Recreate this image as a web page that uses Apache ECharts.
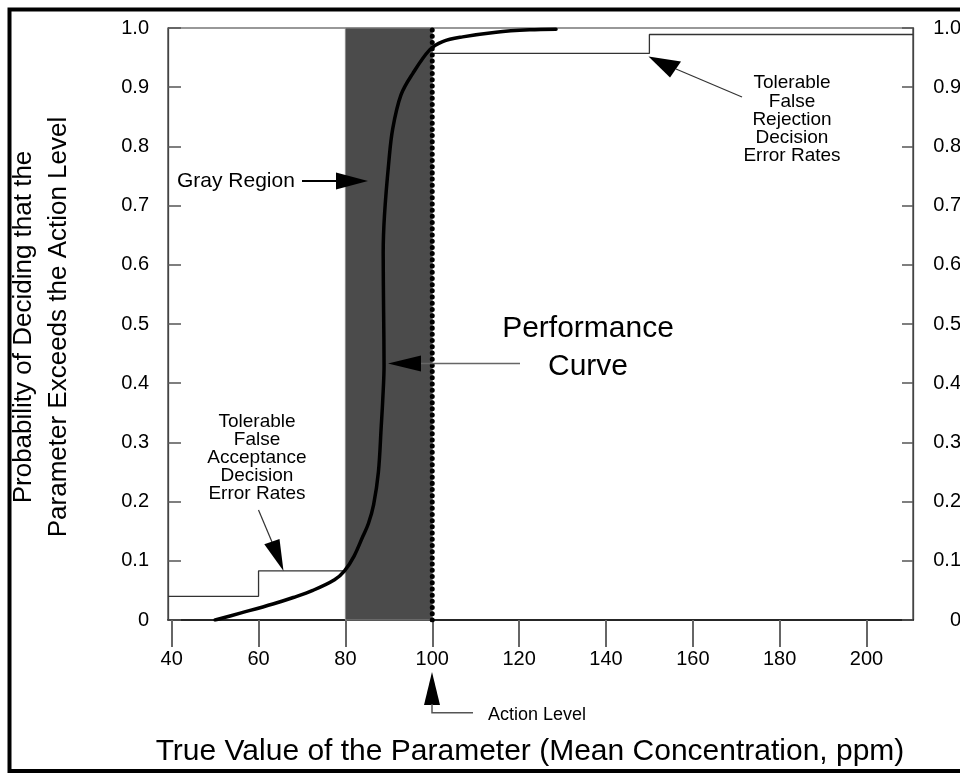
<!DOCTYPE html>
<html>
<head>
<meta charset="utf-8">
<script src="https://cdn.jsdelivr.net/npm/echarts@6/dist/echarts.min.js"></script>
<style>
html,body{margin:0;padding:0;background:#fff;}
#c{width:960px;height:775px;}
</style>
</head>
<body>
<div id="c"></div>
<script>
// ---- data ----
const xTicks = [40, 60, 80, 100, 120, 140, 160, 180, 200];
const xRange = [39.15, 210.7];
const yRange = [0, 1];
const yStep = 0.1;

const grayRegion = [80, 100];
const actionLevel = 100;

const curveX = [50, 56, 63.3, 68, 72.5, 77.5, 79.8, 82, 84, 85.3, 86.5, 87.6, 88.25, 88.6, 88.9, 88.8, 88.7, 89, 90, 90.9, 92.8, 95.5, 99.4, 102.4, 107, 114.7, 122.4, 128.5];
const curveY = [0, 0.012, 0.027, 0.038, 0.05, 0.068, 0.083, 0.108, 0.141, 0.163, 0.195, 0.25, 0.327, 0.372, 0.43, 0.52, 0.62, 0.684, 0.774, 0.83, 0.887, 0.923, 0.963, 0.977, 0.985, 0.993, 0.997, 0.998];

const falseAccX = [39.15, 60, 80];
const falseAccY = [0.04, 0.083, 0.083];
const falseRejX = [100, 150, 210.7];
const falseRejY = [0.957, 0.989, 0.989];

const xTitle = 'True Value of the Parameter (Mean Concentration, ppm)';
const yTitle1 = 'Probability of Deciding that the';
const yTitle2 = 'Parameter Exceeds the Action Level';

// ---- chart ----
const FF = '"Liberation Sans", Arial, Helvetica, sans-serif';
const zip = (a, b) => a.map((v, i) => [v, b[i]]);
const chart = echarts.init(document.getElementById('c'), null, {renderer: 'canvas'});

const yLabel = v => (v === 0 ? '0' : v.toFixed(1));

const option = {
  animation: false,
  backgroundColor: '#fff',
  grid: {left: 168, right: 47, top: 28, bottom: 155, outerBoundsMode: 'none', containLabel: false, show: true, borderColor: '#333', borderWidth: 1.2, backgroundColor: 'transparent'},
  xAxis: {
    type: 'value', min: xRange[0], max: xRange[1],
    axisLine: {show: true, lineStyle: {color: '#000', width: 1.5}},
    axisTick: {show: true, inside: false, length: 27, customValues: xTicks, lineStyle: {color: '#666', width: 2}},
    axisLabel: {show: true, customValues: xTicks, margin: 29, fontSize: 20, lineHeight: 20, fontFamily: FF, color: '#000'},
    splitLine: {show: false}
  },
  yAxis: [
    {
      type: 'value', position: 'left', min: yRange[0], max: yRange[1], interval: yStep,
      axisLine: {show: true, lineStyle: {color: '#444', width: 1.3}},
      axisTick: {show: true, inside: true, length: 13, lineStyle: {color: '#555', width: 1.5}},
      axisLabel: {margin: 19, fontSize: 20, fontFamily: FF, color: '#000', formatter: yLabel},
      splitLine: {show: false}
    },
    {
      type: 'value', position: 'right', min: yRange[0], max: yRange[1], interval: yStep,
      axisLine: {show: true, lineStyle: {color: '#444', width: 1.3}},
      axisTick: {show: true, inside: true, length: 11, lineStyle: {color: '#555', width: 1.5}},
      axisLabel: {margin: 48, align: 'right', fontSize: 20, fontFamily: FF, color: '#000', formatter: yLabel},
      splitLine: {show: false}
    }
  ],
  series: [
    {
      type: 'line', data: [], z: 1, silent: true,
      markArea: {
        silent: true,
        itemStyle: {color: '#4b4b4b', borderColor: '#888', borderWidth: 1},
        data: [[{xAxis: grayRegion[0], yAxis: yRange[0]}, {xAxis: grayRegion[1], yAxis: yRange[1]}]]
      }
    },
    {
      type: 'line', data: zip(falseAccX, falseAccY), step: 'end', symbol: 'none', z: 3, silent: true,
      lineStyle: {color: '#333', width: 1.3}
    },
    {
      type: 'line', data: zip(falseRejX, falseRejY), step: 'end', symbol: 'none', z: 3, silent: true,
      lineStyle: {color: '#333', width: 1.3}
    },
    {
      type: 'line', data: [[actionLevel, yRange[0]], [actionLevel, yRange[1]]], symbol: 'none', z: 4, silent: true,
      lineStyle: {color: '#000', width: 5, type: [0.01, 6.2], cap: 'round'}
    },
    {
      type: 'line', data: zip(curveX, curveY), smooth: 0.35, symbol: 'none', z: 5, silent: true,
      lineStyle: {color: '#000', width: 3.5, cap: 'round', join: 'round'}
    }
  ],
  graphic: [
    // outer frame
    {type: 'rect', z: 100, shape: {x: 9.5, y: 9.5, width: 1000, height: 761.5}, style: {fill: 'none', stroke: '#000', lineWidth: 4}},
    // axis titles
    {type: 'text', z: 100, x: 530, y: 752, style: {text: xTitle, x: 0, y: 0, font: '30px ' + FF, fill: '#000', textAlign: 'center', textVerticalAlign: 'middle'}},
    {type: 'text', z: 100, x: 24, y: 327, rotation: Math.PI / 2, style: {text: yTitle1, x: 0, y: 0, font: '26px ' + FF, fill: '#000', textAlign: 'center', textVerticalAlign: 'middle'}},
    {type: 'text', z: 100, x: 59, y: 327, rotation: Math.PI / 2, style: {text: yTitle2, x: 0, y: 0, font: '26px ' + FF, fill: '#000', textAlign: 'center', textVerticalAlign: 'middle'}},
    // Gray Region
    {type: 'text', z: 100, style: {text: 'Gray Region', x: 177, y: 181, font: '21px ' + FF, fill: '#000', textAlign: 'left', textVerticalAlign: 'middle'}},
    {type: 'line', z: 100, shape: {x1: 302, y1: 181, x2: 340, y2: 181}, style: {stroke: '#000', lineWidth: 2}},
    {type: 'polygon', z: 100, shape: {points: [[336, 172.5], [368, 181], [336, 189.5]]}, style: {fill: '#000'}},
    // Performance Curve
    {type: 'text', z: 100, style: {text: 'Performance\nCurve', x: 588, y: 348, font: '30px ' + FF, lineHeight: 38, fill: '#000', textAlign: 'center', textVerticalAlign: 'middle'}},
    {type: 'line', z: 100, shape: {x1: 520, y1: 363.5, x2: 420, y2: 363.5}, style: {stroke: '#666', lineWidth: 1.5}},
    {type: 'polygon', z: 100, shape: {points: [[388, 363.5], [421, 355.5], [421, 371.5]]}, style: {fill: '#000'}},
    // False rejection
    {type: 'text', z: 100, style: {text: 'Tolerable\nFalse\nRejection\nDecision\nError Rates', x: 792, y: 119.5, font: '19px ' + FF, lineHeight: 18.2, fill: '#000', textAlign: 'center', textVerticalAlign: 'middle'}},
    {type: 'line', z: 100, shape: {x1: 742, y1: 97, x2: 676, y2: 69}, style: {stroke: '#333', lineWidth: 1.2}},
    {type: 'polygon', z: 100, shape: {points: [[648.5, 56.5], [670, 77.5], [681, 61.5]]}, style: {fill: '#000'}},
    // False acceptance
    {type: 'text', z: 100, style: {text: 'Tolerable\nFalse\nAcceptance\nDecision\nError Rates', x: 257, y: 457.5, font: '19px ' + FF, lineHeight: 18, fill: '#000', textAlign: 'center', textVerticalAlign: 'middle'}},
    {type: 'line', z: 100, shape: {x1: 258.5, y1: 510, x2: 272, y2: 542}, style: {stroke: '#333', lineWidth: 1.2}},
    {type: 'polygon', z: 100, shape: {points: [[283.5, 571], [264.3, 544.3], [279.5, 539]]}, style: {fill: '#000'}},
    // Action level
    {type: 'polygon', z: 100, shape: {points: [[432, 672], [424, 705], [440, 705]]}, style: {fill: '#000'}},
    {type: 'polyline', z: 100, shape: {points: [[432, 704], [432, 712.7], [473, 712.7]]}, style: {stroke: '#555', lineWidth: 1.5, fill: 'none'}},
    {type: 'text', z: 100, style: {text: 'Action Level', x: 488, y: 715, font: '18px ' + FF, fill: '#000', textAlign: 'left', textVerticalAlign: 'middle'}}
  ]
};
chart.setOption(option);
</script>
</body>
</html>
